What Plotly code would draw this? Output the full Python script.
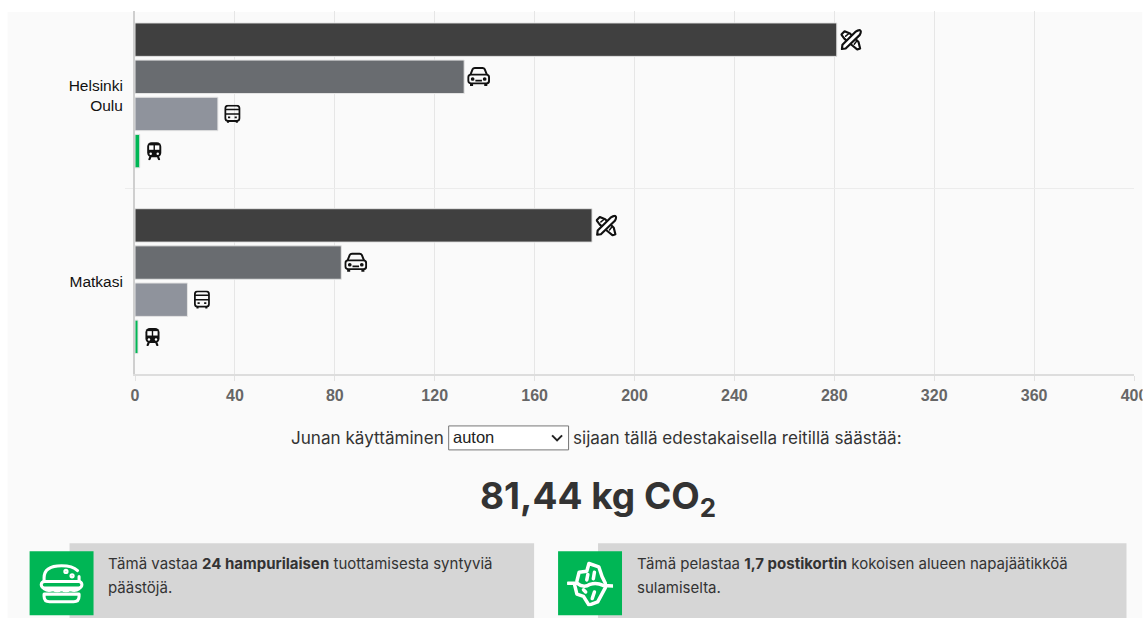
import base64
import plotly.graph_objects as go

routes = ["Helsinki<br>Oulu", "Matkasi"]
modes = ["Lentokone", "Auto", "Bussi", "Juna"]
plane = [281, 183]
car = [131.8, 82.6]
bus = [33.2, 21]
train = [1.9, 1.2]
series = [plane, car, bus, train]
colors = ["#404040", "#696c70", "#8f939c", "#00b655"]
x_ticks = [0, 40, 80, 120, 160, 200, 240, 280, 320, 360, 400]

headline = "<b>81,44 kg CO<sub>2</sub></b>"
sentence_a = "Junan käyttäminen"
sentence_b = "sijaan tällä edestakaisella reitillä säästää:"
select_label = "auton"
card_a = ["Tämä vastaa <b>24 hampurilaisen</b> tuottamisesta syntyviä", "päästöjä."]
card_b = ["Tämä pelastaa <b>1,7 postikortin</b> kokoisen alueen napajäätikköä", "sulamiselta."]

PAGE_W, PAGE_H = 1145, 618
LEFT, RIGHT, TOP, BOTTOM = 134.5, 1134.5, 11, 374.5
BAND = 186  # px per category
Y_RANGE = [1.5, 1.5 - (BOTTOM - TOP) / BAND]
def PX(p): return (p - LEFT) / (RIGHT - LEFT)
def PY(p): return (BOTTOM - p) / (BOTTOM - TOP)
def PB(p): return PY(p + 1)   # page furniture below the plot area
def uri(body, view="0 0 24 24"):
    svg = f'<svg xmlns="http://www.w3.org/2000/svg" viewBox="{view}" width="96" height="96">{body}</svg>'
    return "data:image/svg+xml;base64," + base64.b64encode(svg.encode()).decode()

plane_svg = uri(
    '<g stroke-linecap="round" stroke-linejoin="round" fill="none">'
    '<path d="M3 7 L6 4 L11 6 L19 14 L20.5 20 L18 21 L13 17 L6 11 Z" stroke="#111" stroke-width="2" fill="#fff"/>'
    '<path d="M3.5 20.5 L7 20 L20 7.5 Q22 4 20.5 3 Q19 2.5 16 4.5 L4 16.5 Z" stroke="#111" stroke-width="2" fill="#fff"/>'
    '<path d="M7 8.5 L9.5 6.5 M15 16 L17 13.5" stroke="#111" stroke-width="1.4"/>'
    '</g>', "2 1.5 20.5 20.5")
car_svg = uri(
    '<g fill="none" stroke="#111" stroke-width="1.8" stroke-linejoin="round">'
    '<path d="M4.5 10 L6.5 5 Q7 4 8.5 4 H15.5 Q17 4 17.5 5 L19.5 10"/>'
    '<rect x="2.5" y="10" width="19" height="8" rx="2.5"/>'
    '<path d="M5.5 18 V20.5 M18.5 18 V20.5" stroke-width="2.8"/>'
    '<path d="M9 15.5 H15" stroke-width="1.5"/>'
    '<circle cx="6.5" cy="14" r=".8" fill="#111"/><circle cx="17.5" cy="14" r=".8" fill="#111"/>'
    '</g>', "1.5 1.5 21 21")
bus_svg = uri(
    '<g fill="none" stroke="#111" stroke-width="2" stroke-linejoin="round">'
    '<rect x="4" y="2.5" width="16" height="17.5" rx="3"/>'
    '<path d="M4 12 H20 M4 7 H20" stroke-width="1.8"/>'
    '<path d="M7 20 V22 M17 20 V22" stroke-width="2.4"/>'
    '<path d="M7 16 H9.5 M14.5 16 H17" stroke-width="2"/>'
    '</g>', "1.5 1.5 21 21")
train_svg = uri(
    '<rect x="4" y="2" width="16" height="17" rx="5" fill="#111"/>'
    '<rect x="6.2" y="5.5" width="5" height="5" fill="#fff"/><rect x="12.8" y="5.5" width="5" height="5" fill="#fff"/>'
    '<circle cx="8" cy="15" r="1.4" fill="#fff"/><circle cx="16" cy="15" r="1.4" fill="#fff"/>'
    '<path d="M7.5 19 L6.5 21.5 M16.5 19 L17.5 21.5" stroke="#111" stroke-width="2.4" stroke-linecap="round"/>',
    "1.5 1.5 21 21")
burger_svg = uri(
    '<g fill="none" stroke="#fff" stroke-width="1.4" stroke-linecap="round" stroke-linejoin="round">'
    '<path d="M4 11 V9.5 Q4 4 12 4 Q17 4 19.3 6.2"/><path d="M20 9 V11"/>'
    '<rect x="2.7" y="11.2" width="18.6" height="3" rx="1.5"/>'
    '<path d="M4 14.5 Q6 16 8 14.8 Q10 16 12 14.8 Q14 16 16 14.8 Q18 16 20 14.5"/>'
    '<path d="M4 17 H20 V18 Q20 20.5 17.5 20.5 H6.5 Q4 20.5 4 18 Z"/>'
    '<circle cx="14" cy="6.6" r=".5"/><circle cx="16.8" cy="8.6" r=".5"/>'
    '</g>', "1.5 1.5 21 21")
ice_svg = uri(
    '<g fill="none" stroke="#fff" stroke-width="1.6" stroke-linecap="round" stroke-linejoin="round">'
    '<path d="M6 11 L7 7 L10.5 6.5 L11.5 3 L16 4.5 L17.5 9 L19 12"/>'
    '<path d="M2 12 L6 12 Q9 14.5 12 12.5 Q15 11.5 18 13 L22.5 13.3"/>'
    '<path d="M5 13 L6 17 L9 18 L11.5 22 L15.5 20.5 L19 14"/>'
    '<path d="M11 8 L10.5 10.5 M14 7 L13.5 10 M14 16 L13 19 M9 15 L10 16"/>'
    '</g>', "1.5 1.5 21 21")
icons = [plane_svg, car_svg, bus_svg, train_svg]
icon_px = [22, 23, 18.5, 18.5]

fig = go.Figure()
for name, vals, col in zip(modes, series, colors):
    fig.add_trace(go.Bar(name=name, y=routes, x=vals, orientation="h",
                         marker=dict(color=col, line=dict(color="#e4e4e4", width=1))))

images = []
for g in range(len(routes)):
    for s in range(len(series)):
        pos = g - 0.4 + 0.8 * (s + 0.5) / len(series)          # position on the category axis
        py = BOTTOM - (Y_RANGE[0] - pos) * BAND
        images.append(dict(source=icons[s], xref="x", yref="paper",
                           x=series[s][g] + 5.8, y=PY(py),
                           sizex=icon_px[s] / 2.5, sizey=icon_px[s] / (BOTTOM - TOP),
                           xanchor="center", yanchor="middle", sizing="contain", layer="above"))
images.append(dict(source=burger_svg, xref="paper", yref="paper", x=PX(61), y=PB(583),
                   sizex=46 / 1000, sizey=46 / (BOTTOM - TOP), xanchor="center", yanchor="middle", sizing="contain", layer="above"))
images.append(dict(source=ice_svg, xref="paper", yref="paper", x=PX(590), y=PB(583),
                   sizex=46 / 1000, sizey=46 / (BOTTOM - TOP), xanchor="center", yanchor="middle", sizing="contain", layer="above"))

def rect(x0, y0, x1, y1, color, layer="below"):
    return dict(type="rect", xref="paper", yref="paper", x0=PX(x0), x1=PX(x1), y0=PB(y0), y1=PB(y1),
                fillcolor=color, line=dict(width=0), layer=layer)

shapes = [
    rect(7, 11, 1143, 618, "#fafafa"),
    rect(1143, 0, 1146, 618, "#ffffff", layer="above"),
    rect(69, 543, 534, 618, "#d6d6d6"),
    rect(598, 543, 1127, 618, "#d6d6d6"),
    rect(29, 551, 93, 615, "#00b655"),
    rect(558, 551, 622, 615, "#00b655"),
    dict(type="rect", xref="paper", yref="paper", x0=PX(448.5), x1=PX(568.5), y0=PB(425.5), y1=PB(449.5),
         fillcolor="#ffffff", line=dict(color="#767676", width=1), layer="below"),
    dict(type="path", xref="paper", yref="paper", layer="above",
         path=f"M {PX(552)} {PB(435)} L {PX(557)} {PB(440)} L {PX(562)} {PB(435)}",
         line=dict(color="#222", width=2)),
]

BODY = "Inter, sans-serif"
TXT = "#333333"
def note(px, py, text, size=16, anchor="left", font=BODY, color=TXT):
    shift = 3 if anchor == "left" else 0
    return dict(xref="paper", yref="paper", x=PX(px - shift), y=PB(py), text=text, showarrow=False,
                xanchor=anchor, yanchor="middle", font=dict(family=font, size=size, color=color))

annotations = [
    note(292, 437, sentence_a, 17.1),
    note(574, 437, sentence_b, 17.1),
    note(454, 437, select_label, 16.5, font="Liberation Sans", color="#222"),
    note(598, 498, headline, 37, anchor="center"),
    note(108, 563, card_a[0], 15),
    note(108, 587, card_a[1], 15),
    note(638.5, 563, card_b[0], 15),
    note(638.5, 587, card_b[1], 15),
]

fig.update_layout(
    width=PAGE_W, height=PAGE_H, autosize=False,
    margin=dict(l=LEFT, r=PAGE_W - RIGHT, t=TOP, b=PAGE_H - BOTTOM, pad=0, autoexpand=False),
    paper_bgcolor="#ffffff", plot_bgcolor="rgba(0,0,0,0)",
    barmode="group", bargap=0.2, bargroupgap=0.1, showlegend=False,
    xaxis=dict(range=[0, 400], tickvals=x_ticks, ticks="outside", ticklen=5, tickcolor="#e2e2e2",
               showgrid=True, gridcolor="#e6e6e6", gridwidth=1, zeroline=False,
               showline=True, linecolor="#dddddd", linewidth=2, ticklabeloverflow="allow", automargin=False,
               ticklabelstandoff=1,
               tickfont=dict(family="Liberation Sans", size=16, color="#666666", weight="bold")),
    yaxis=dict(range=Y_RANGE, type="category", tickson="boundaries", ticks="outside", ticklen=8,
               tickcolor="#ececec", showgrid=True, gridcolor="#ececec", gridwidth=1, zeroline=False,
               showline=True, linecolor="#cfcfcf", linewidth=2, ticklabelstandoff=7, automargin=False,
               tickfont=dict(family="Liberation Sans", size=15.5, color="#111111")),
    shapes=shapes, images=images, annotations=annotations,
)

fig.write_html("out.html", config={"displayModeBar": False},
               post_script="document.body.style.margin='0';document.documentElement.style.overflow='hidden';")
